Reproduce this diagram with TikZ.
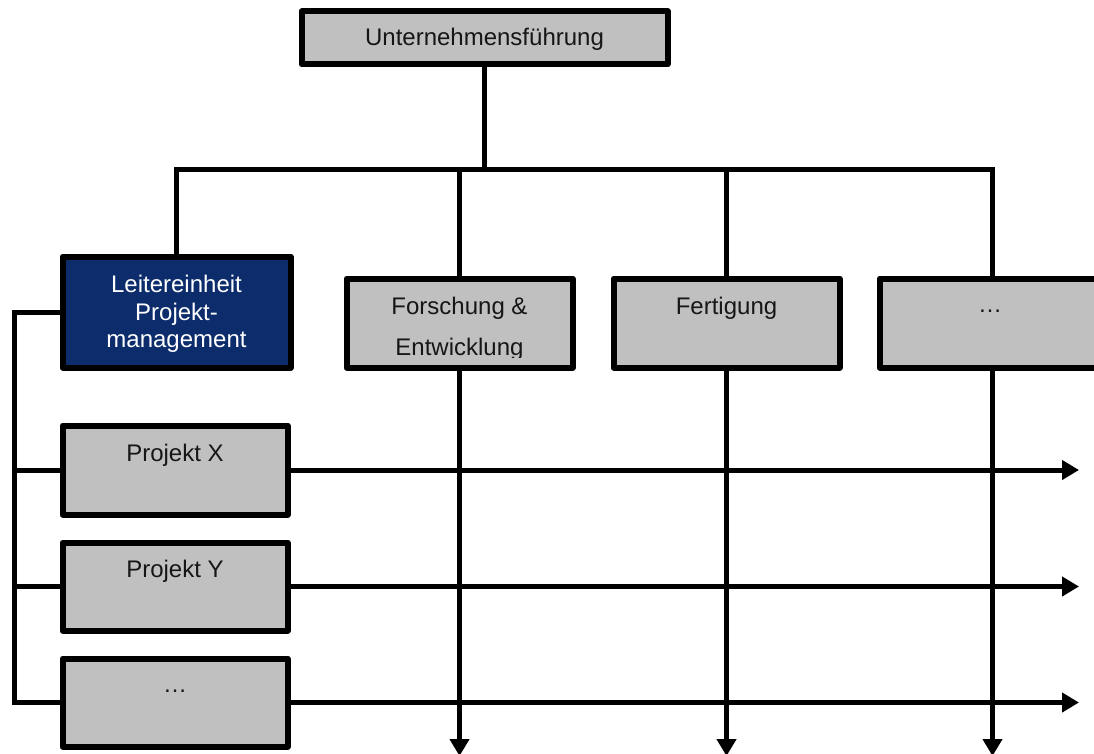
\documentclass[tikz,border=0pt]{standalone}
\usepackage{fontspec}
\setmainfont{Liberation Sans}
\usetikzlibrary{arrows.meta,backgrounds,calc}
\definecolor{boxgray}{RGB}{192,192,192}
\definecolor{leadblue}{RGB}{12,44,108}
\definecolor{ink}{RGB}{22,22,22}
\begin{document}
\begin{tikzpicture}[x=1pt,y=-1pt,
  unit/.style={draw=black, line width=6pt, fill=boxgray, line join=round,
    inner sep=0pt, minimum width=226, minimum height=89},
  lead/.style={unit, fill=leadblue},
  lbl/.style={inner sep=0pt, text=ink, font=\fontsize{24}{27.5}\selectfont},
  conn/.style={draw=black, line width=5pt},
  flow/.style={conn, -{Triangle[length=17pt,width=19pt]}}]
\useasboundingbox (0,0) rectangle (1094,754);

% boxes
\node[unit, minimum width=366, minimum height=53] (top) at (484.5,38) {};
\node[lead, minimum width=228, minimum height=111] (lead) at (176.5,312) {};
\node[unit] (fe)    at (459.5,323) {};
\node[unit] (fert)  at (726.5,323) {};
\node[unit] (dotsR) at (992.5,323) {};
\node[unit, minimum width=225] (px) at (175,470) {};
\node[unit, minimum width=225, minimum height=88] (py) at (175,586.5) {};
\node[unit, minimum width=225, minimum height=88] (pd) at (175,702.5) {};

% labels
\node[lbl, anchor=base] (topT) at (484.5,46) {Unternehmensführung};
\node[lbl, align=center, text=white] (leadT) at (176.5,314)
  {Leitereinheit\\Projekt-\\management};
\node[lbl, anchor=base] (feT1) at (459.5,314) {Forschung \&};
\begin{scope}
  % the second line is cut off by the text frame
  \clip (348,280) rectangle (571,357.5);
  \node[lbl, anchor=base] (feT2) at (459.5,355) {Entwicklung};
\end{scope}
\node[lbl, anchor=base] (fertT) at (726.5,314) {Fertigung};
\node[lbl] (dotsRT) at (990,311) {\dots};
\node[lbl, anchor=base] (pxT) at (175,461) {Projekt X};
\node[lbl, anchor=base] (pyT) at (175,577) {Projekt Y};
\node[lbl] (pdT) at (175,691) {\dots};

% helper coordinates for the bus and the matrix lines
\coordinate (busY) at (0,170);
\coordinate (bottom) at (0,756);
\coordinate (spine) at (14,0);
\coordinate (tip) at (1079,0);
\coordinate (busL) at (lead.north |- busY);
\coordinate (busR) at (dotsR.north |- busY);

\begin{scope}[on background layer]
  % line organisation
  \draw[conn] (top.south) -- (top.south |- busY);
  \draw[flow] (lead.north) -- (busL) -- (busR) -- (dotsR.north |- bottom);
  \draw[flow] (fe.north |- busY) -- (fe.north |- bottom);
  \draw[flow] (fert.north |- busY) -- (fert.north |- bottom);
  % project lines
  \draw[conn] (lead.west) -- (lead.west -| spine) -- (pd.west -| spine) -- (pd.west);
  \draw[conn] (px.west -| spine) -- (px.west);
  \draw[conn] (py.west -| spine) -- (py.west);
  \draw[flow] (px.east) -- (px.east -| tip);
  \draw[flow] (py.east) -- (py.east -| tip);
  \draw[flow] (pd.east) -- (pd.east -| tip);
\end{scope}
\end{tikzpicture}
\end{document}
